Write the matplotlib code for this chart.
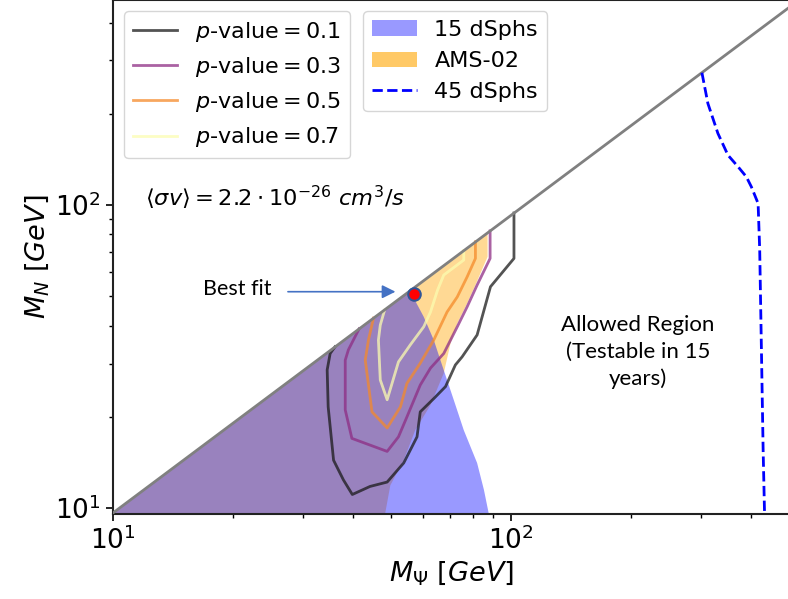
import matplotlib
matplotlib.use("Agg")
import matplotlib.pyplot as plt
from matplotlib.lines import Line2D
from matplotlib.patches import Patch

# kinematic boundary M_N < M_Psi
diag_mpsi = [10.0, 500.0]
diag_mn = [9.65, 450.0]

# p-value contours (M_Psi, M_N) in GeV
p_levels = [0.1, 0.3, 0.5, 0.7]
p_colors = ['#1a1a1a', '#8e2d84', '#f58a2a', '#fcfdb0']

p01_x = [101.6, 101.6, 88.7, 82.1, 75.3, 72.4, 68.4, 63.9, 59.1, 58.0, 53.7,
         48.8, 44.2, 39.9, 37.9, 35.8, 34.7, 34.5, 35.1, 36.1]
p01_y = [94.2, 66.7, 53.8, 37.3, 31.6, 29.7, 25.2, 23.0, 20.8, 17.2, 14.1,
         12.2, 11.8, 11.1, 12.4, 14.4, 21.6, 28.6, 32.4, 34.1]

p03_x = [88.5, 88.5, 82.1, 77.5, 73.2, 67.7, 62.7, 59.1, 54.7, 52.1, 48.8,
         39.8, 38.3, 38.3, 39.0, 41.5]
p03_y = [82.2, 66.7, 54.5, 46.2, 39.7, 32.4, 29.0, 25.5, 20.0, 17.2, 15.4,
         17.0, 21.1, 30.8, 33.3, 39.1]

p05_x = [81.3, 81.3, 77.5, 73.2, 69.0, 63.9, 59.1, 54.7, 52.7, 48.8, 44.7,
         43.0, 43.8, 45.1]
p05_y = [75.7, 66.7, 58.0, 49.8, 44.4, 35.9, 30.1, 25.8, 21.6, 18.4, 20.8,
         30.8, 35.9, 42.4]

p07_x = [76.0, 76.0, 67.7, 65.3, 62.7, 60.3, 55.8, 52.1, 48.8, 46.9, 46.4,
         46.9, 48.1]
p07_y = [70.9, 65.9, 58.8, 52.4, 44.4, 39.7, 34.6, 30.4, 22.8, 26.5, 35.9,
         40.2, 45.1]

# upper edge of the 15 dSphs excluded region
dsph15_x = [55.8, 57.8, 60.3, 63.9, 66.4, 69.0, 71.7, 76.0, 82.1, 85.4, 88.7]
dsph15_y = [52.2, 47.5, 42.8, 35.9, 30.8, 26.5, 22.8, 18.1, 14.1, 11.5, 9.0]

# edge of the AMS-02 excluded region
ams_x = [87.2, 87.2, 81.3, 77.5, 73.2, 70.4, 67.7, 62.7, 57.4, 53.7, 49.7, 47.8]
ams_y = [80.9, 67.5, 54.5, 47.4, 40.7, 35.0, 27.9, 21.9, 18.1, 14.4, 11.9, 9.0]

# 45 dSphs projected sensitivity
dsph45_x = [301.2, 311.8, 330.4, 350.1, 371.8, 389.4, 400.9, 416.8, 420.7,
            424.9, 429.1, 433.1]
dsph45_y = [273.4, 216.4, 172.4, 146.2, 133.5, 124.0, 114.9, 101.3, 71.1,
            33.3, 15.6, 9.0]

best_fit = (57.1, 50.8)

fig = plt.figure(figsize=(7.88, 5.99), dpi=100)
ax = fig.add_axes([0.1434, 0.1414, 0.8586, 0.8586])
ax.set_xscale('log')
ax.set_yscale('log')

# excluded regions
ax.fill([diag_mpsi[0]] + ams_x + [diag_mpsi[0]],
        [diag_mn[0]] + ams_y + [9.0],
        color='orange', alpha=0.42, lw=0)
ax.fill([diag_mpsi[0]] + dsph15_x + [diag_mpsi[0]],
        [diag_mn[0]] + dsph15_y + [9.0],
        color='blue', alpha=0.4, lw=0)

contours = [(p01_x, p01_y), (p03_x, p03_y), (p05_x, p05_y), (p07_x, p07_y)]
for (cx, cy), col in zip(contours, p_colors):
    ax.plot(cx, cy, color=col, lw=2, alpha=0.75)

ax.plot(diag_mpsi, diag_mn, color='gray', lw=2, zorder=4)
ax.plot(dsph45_x, dsph45_y, color='blue', ls='--', lw=2, zorder=4)

ax.plot(*best_fit, 'o', ms=9, mfc='red', mec='#2f5597', mew=1.5, zorder=6)
ax.annotate('', xy=(51.2, 51.8), xytext=(27.5, 51.8),
            arrowprops=dict(arrowstyle='-|>', color='#4472c4', lw=1.2,
                            mutation_scale=20, shrinkA=0, shrinkB=0))
ax.text(0.1837, 0.438, 'Best fit', transform=ax.transAxes, ha='center',
        va='center', fontsize=15.5, family='Lato')
ax.text(0.776, 0.316, 'Allowed Region\n(Testable in 15\nyears)',
        transform=ax.transAxes, ha='center', va='center', fontsize=16,
        family='Lato', linespacing=1.4)
ax.text(0.047, 0.615,
        r'$\langle\sigma v\rangle = 2.2\cdot 10^{-26}\ cm^3/s$',
        transform=ax.transAxes, ha='left', va='center', fontsize=16.2)

ax.set_xlim(10, 500)
ax.set_ylim(9.55, 475)
ax.set_xlabel(r'$M_\Psi\ [GeV]$', fontsize=19.5, labelpad=3)
ax.set_ylabel(r'$M_N\ [GeV]$', fontsize=19.5, labelpad=3)
ax.tick_params(which='major', labelsize=19, length=5, width=1.2)
ax.tick_params(which='minor', length=3, width=1)
for s in ax.spines.values():
    s.set_linewidth(1.5)
    s.set_color('#222222')

h1 = [Line2D([], [], color=c, lw=2, alpha=0.75) for c in p_colors]
l1 = [r'$p$-value$=%.1f$' % p for p in p_levels]
leg1 = ax.legend(h1, l1, loc='upper left', fontsize=16)
ax.add_artist(leg1)

h2 = [Patch(color='blue', alpha=0.4, lw=0),
      Patch(color='orange', alpha=0.6, lw=0),
      Line2D([], [], color='blue', ls='--', lw=2)]
ax.legend(h2, ['15 dSphs', 'AMS-02', '45 dSphs'], loc='upper left',
          bbox_to_anchor=(0.3536, 1.0), fontsize=16)

fig.savefig('out.png', dpi=100)
